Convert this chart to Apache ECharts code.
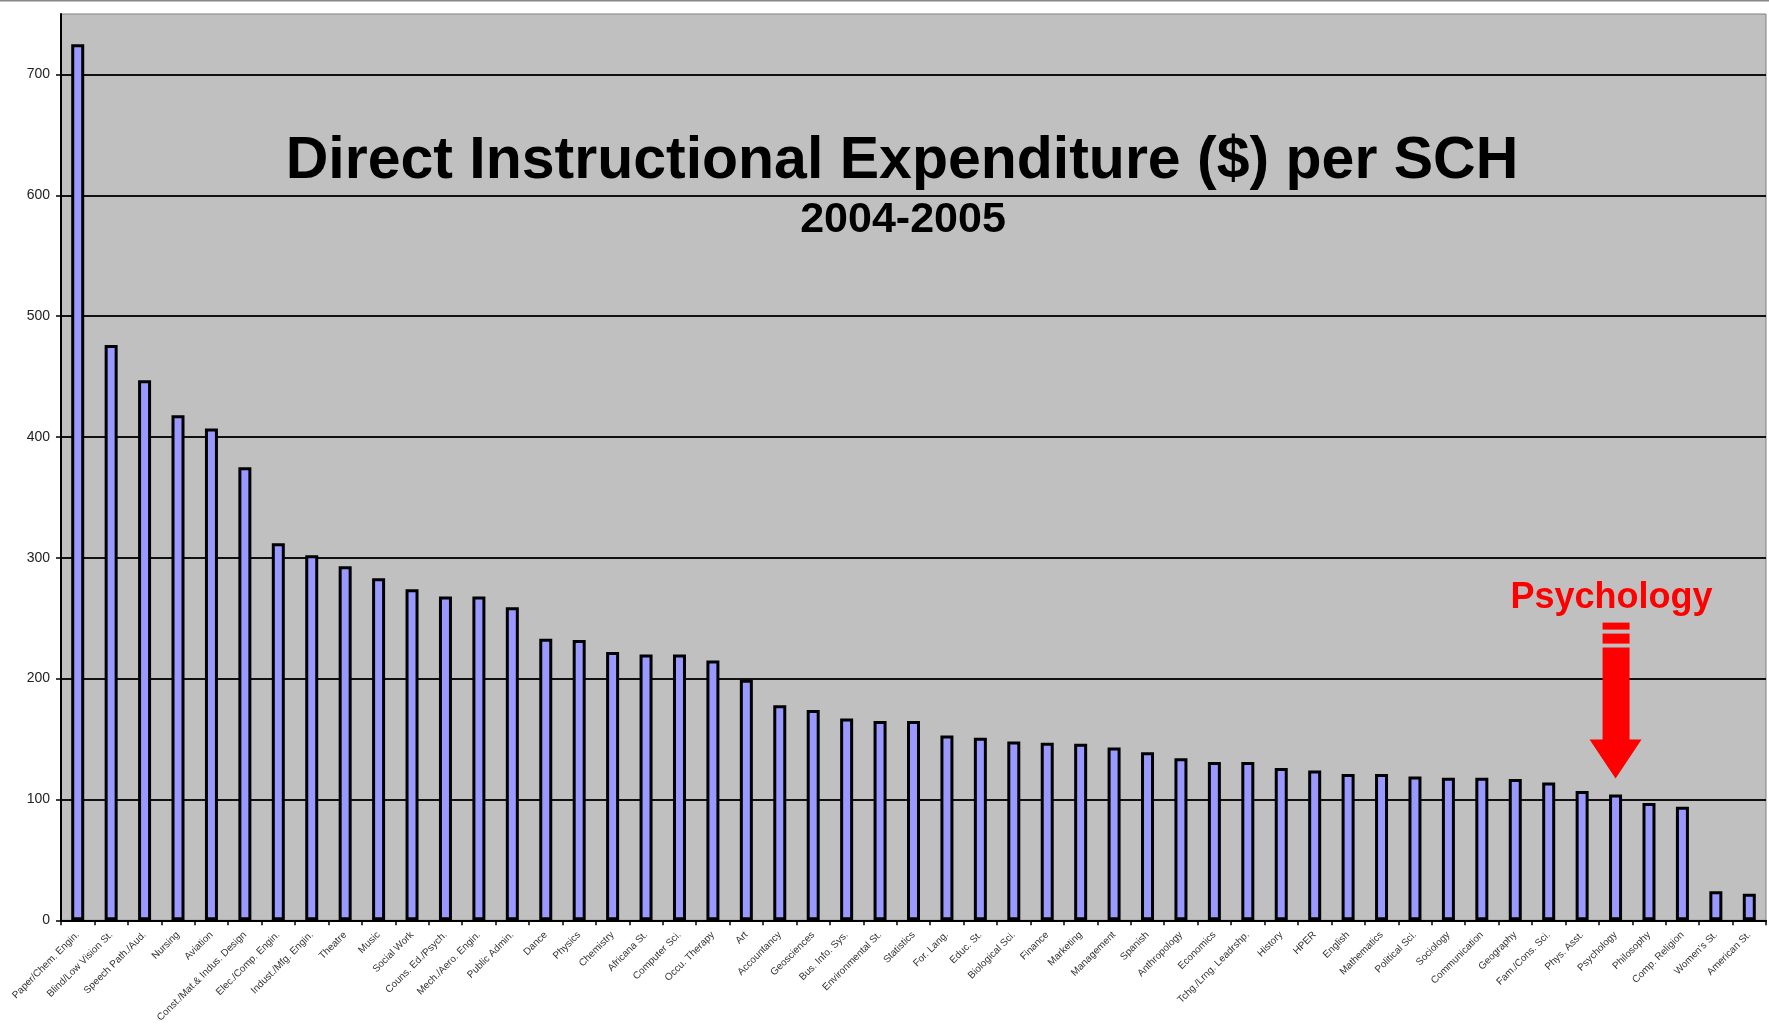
<!DOCTYPE html>
<html>
<head>
<meta charset="utf-8">
<script src="https://cdn.jsdelivr.net/npm/echarts@6/dist/echarts.min.js"></script>
<style>
  html, body { margin: 0; padding: 0; background: #fff; }
  #chart { width: 1769px; height: 1025px; }
</style>
</head>
<body>
<div id="chart"></div>
<script>
// departments, sorted by spending
const departments = [
  'Paper/Chem. Engin.', 'Blind/Low Vision St.', 'Speech Path./Aud.', 'Nursing', 'Aviation',
  'Const./Mat.& Indus. Design', 'Elec./Comp. Engin.', 'Indust./Mfg. Engin.', 'Theatre', 'Music',
  'Social Work', 'Couns. Ed./Psych.', 'Mech./Aero. Engin.', 'Public Admin.', 'Dance',
  'Physics', 'Chemistry', 'Africana St.', 'Computer Sci.', 'Occu. Therapy',
  'Art', 'Accountancy', 'Geosciences', 'Bus. Info. Sys.', 'Environmental St.',
  'Statistics', 'For. Lang.', 'Educ. St.', 'Biological Sci.', 'Finance',
  'Marketing', 'Management', 'Spanish', 'Anthropology', 'Economics',
  'Tchg./Lrng. Leadrshp.', 'History', 'HPER', 'English', 'Mathematics',
  'Political Sci.', 'Sociology', 'Communication', 'Geography', 'Fam./Cons. Sci.',
  'Phys. Asst.', 'Psychology', 'Philosophy', 'Comp. Religion', "Women's St.",
  'American St.'
];

// $ per student credit hour
const expenditure = [
  725, 476, 447, 418, 407,
  375, 312, 302, 293, 283,
  274, 268, 268, 259, 233,
  232, 222, 220, 220, 215,
  199, 178, 174, 167, 165,
  165, 153, 151, 148, 147,
  146, 143, 139, 134, 131,
  131, 126, 124, 121, 121,
  119, 118, 118, 117, 114,
  107, 104, 97, 94, 24,
  22
];

const yMin = 0;
const yMax = 750;
const yStep = 100;

const titleText = 'Direct Instructional Expenditure ($) per SCH';
const subtitleText = '2004-2005';
const highlightDept = 'Psychology';

const fontFamily = '"Liberation Sans", Arial, Helvetica, sans-serif';

let chart = echarts.init(document.getElementById('chart'));

let options = {
  animation: false,
  backgroundColor: '#fff',
  title: [
    {
      text: titleText,
      left: 902,
      top: 132,
      padding: 0,
      textAlign: 'center',
      textStyle: { fontSize: 59, fontWeight: 'bold', color: '#000', fontFamily: fontFamily }
    },
    {
      text: subtitleText,
      left: 903,
      top: 199,
      padding: 0,
      textAlign: 'center',
      textStyle: { fontSize: 43, fontWeight: 'bold', color: '#000', fontFamily: fontFamily }
    }
  ],
  grid: {
    left: 61,
    right: 3,
    top: 14,
    bottom: 104,
    show: true,
    backgroundColor: '#c0c0c0',
    borderColor: '#808080',
    borderWidth: 1
  },
  xAxis: {
    type: 'category',
    data: departments,
    axisLine: { show: true, lineStyle: { color: '#000', width: 2 } },
    axisTick: { show: true, length: 5, lineStyle: { color: '#000', width: 1.5 } },
    axisLabel: {
      interval: 0,
      rotate: 45,
      margin: 13,
      fontSize: 10,
      color: '#333',
      fontFamily: fontFamily
    }
  },
  yAxis: {
    type: 'value',
    min: yMin,
    max: yMax,
    interval: yStep,
    axisLine: { show: true, lineStyle: { color: '#000', width: 2 } },
    axisTick: { show: true, length: 5, lineStyle: { color: '#000', width: 1.5 } },
    axisLabel: {
      showMaxLabel: false,
      margin: 11,
      fontSize: 14,
      color: '#222',
      fontFamily: fontFamily
    },
    splitLine: {
      show: true,
      showMaxLine: false,
      lineStyle: { color: '#111', width: 2 }
    }
  },
  series: [
    {
      type: 'bar',
      data: expenditure,
      barWidth: 13,
      itemStyle: {
        color: '#9999ff',
        borderColor: '#000',
        borderWidth: 3
      }
    }
  ]
};
chart.setOption(options);

// red arrow + label pointing at the highlighted bar
let idx = departments.indexOf(highlightDept);
let pt = chart.convertToPixel({ xAxisIndex: 0, yAxisIndex: 0 }, [highlightDept, expenditure[idx]]);
let px = pt[0];
let tip = pt[1] - 16;
chart.setOption({
  graphic: [
    {
      type: 'line',
      shape: { x1: 0, y1: 0.5, x2: 1769, y2: 0.5 },
      style: { stroke: '#888', lineWidth: 2 }
    },
    {
      type: 'text',
      x: px - 4,
      y: tip - 181,
      style: {
        text: highlightDept,
        fill: '#ff0000',
        fontSize: 36,
        fontWeight: 'bold',
        fontFamily: fontFamily,
        align: 'center',
        verticalAlign: 'middle'
      }
    },
    {
      type: 'rect',
      shape: { x: px - 13, y: tip - 156, width: 27, height: 7 },
      style: { fill: '#ff0000' }
    },
    {
      type: 'rect',
      shape: { x: px - 13, y: tip - 145, width: 27, height: 10 },
      style: { fill: '#ff0000' }
    },
    {
      type: 'polygon',
      shape: {
        points: [
          [px - 13, tip - 131], [px + 14, tip - 131], [px + 14, tip - 39],
          [px + 26, tip - 39], [px, tip], [px - 26, tip - 39], [px - 13, tip - 39]
        ]
      },
      style: { fill: '#ff0000' }
    }
  ]
});
</script>
</body>
</html>
